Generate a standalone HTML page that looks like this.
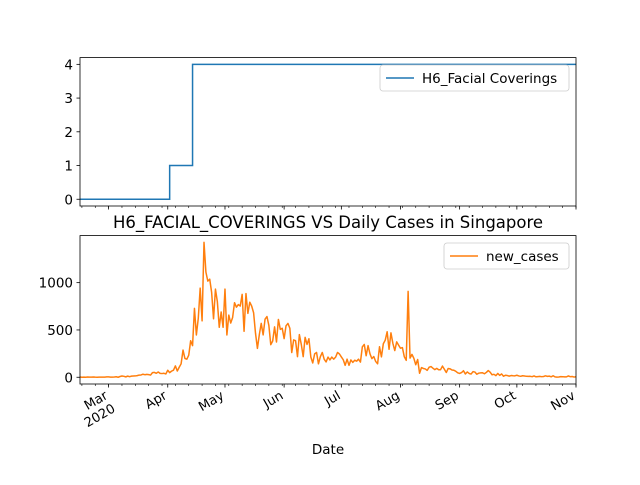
<!DOCTYPE html>
<html><head><meta charset="utf-8"><style>
body{margin:0;background:#fff}
svg{font-family:"DejaVu Sans","Liberation Sans",sans-serif}
</style></head><body>
<svg id="chart" width="640" height="480" xmlns="http://www.w3.org/2000/svg">
<rect width="640" height="480" fill="#fff"/>
<g id="top"></g>
<g id="bot"></g>
</svg>
<script>
// days relative to 2020-03-01 (day 0); series starts at day -15 (Feb 15)
const startDay = -15;
const endDay = 245;
const h6Steps = [[-15,0],[32,1],[44,4]];
const h6Ticks = [0,1,2,3,4];
const casesFeb = [3,0,2,0,3,1,1,3,1,0,1,2,1,2,4];
const casesMar = [4,2,2,3,5,0,8,13,10,4,12,6,12,13,14,17,23,24,32,27,30,28,23,49,51,42,55,41,39,42,35];
const casesApr = [74,49,65,75,120,66,106,142,287,198,191,233,386,334,728,447,623,942,596,1426,1111,1016,1037,897,618,931,799,528,690,528];
const casesMay = [932,447,657,573,632,788,741,768,753,876,486,884,675,793,752,682,465,305,451,570,448,614,642,548,344,383,533,373,611,506,518];
const casesJun = [408,544,569,518,261,395,386,218,451,347,218,422,347,407,214,151,247,262,142,218,262,191,162,213,183,213,191,213,262,246];
const casesJul = [215,185,126,191,126,183,157,180,170,191,160,322,347,227,334,248,197,219,167,142,322,215,354,392,481,296,469,359,282,374,340];
const casesAug = [307,313,216,179,908,202,242,200,132,188,42,102,93,88,73,106,113,96,81,94,79,80,118,85,50,93,89,77,74,63,47];
const casesSep = [40,49,69,35,56,40,34,59,55,32,43,46,47,37,51,71,54,26,31,17,40,20,35,11,21,18,12,18,16,15];
const casesOct = [21,14,10,16,13,10,9,10,6,14,5,7,9,6,8,15,9,12,5,16,4,2,3,7,6,4,4,14,6,8,2];
const casesNov = [5];
const caseTicks = [0,500,1000];
const monthNames = ["Mar","Apr","May","Jun","Jul","Aug","Sep","Oct","Nov"];
const monthDays = [0,31,61,92,122,153,184,214,245];

const cases = [].concat(casesFeb,casesMar,casesApr,casesMay,casesJun,casesJul,casesAug,casesSep,casesOct,casesNov);
const NS="http://www.w3.org/2000/svg";
const L=80,R=576;
function xs(d){return L+(d-startDay)*(R-L)/(endDay-startDay);}
function mk(tag,attrs,parent,text){const e=document.createElementNS(NS,tag);for(const k in attrs)e.setAttribute(k,attrs[k]);if(text!==undefined)e.textContent=text;parent.appendChild(e);return e;}

function axesFrame(g,top,bot,yTicks,ys,labels){
  // weekly minor ticks (Mondays)
  for(let d=-14; d<=endDay; d+=7){
    const t=mk('line',{x1:xs(d),x2:xs(d),y1:bot,y2:bot+2,stroke:'#000','stroke-width':0.6},g);
    
    
  }
  monthDays.forEach((d,i)=>{
    const t=mk('line',{x1:xs(d),x2:xs(d),y1:bot,y2:bot+3.5,stroke:'#000','stroke-width':0.8},g);
    
    
    if(labels){
      const x=xs(d), y=bot+14;
      const tx=mk('text',{x:x,y:y,'font-size':13,'text-anchor':'end',transform:`rotate(-30 ${x} ${y})`},g,monthNames[i]);
      
      
      if(i===0){
        const t2=mk('text',{x:x,y:y+15,'font-size':13,'text-anchor':'end',transform:`rotate(-30 ${x} ${y})`},g,'2020');
        
        
      }
    }
  });
  yTicks.forEach(v=>{
    const y=ys(v);
    const t=mk('line',{x1:L-3.5,x2:L,y1:y,y2:y,stroke:'#000','stroke-width':0.8},g);
    
    
    const tx=mk('text',{x:L-7,y:y+5,'font-size':13.5,'text-anchor':'end'},g,String(v));
    
    
  });
  const f=mk('rect',{x:L,y:top,width:R-L,height:bot-top,fill:'none',stroke:'#000','stroke-width':0.8},g);
  
  
}

// top axes
const tg=document.getElementById('top');
const T1=57.6,B1=206;
const y1min=-0.2,y1max=4.2;
function ys1(v){return B1-(v-y1min)*(B1-T1)/(y1max-y1min);}
let p='';
h6Steps.forEach((s,i)=>{
  const next=i<h6Steps.length-1?h6Steps[i+1][0]:endDay;
  p+=(i===0?'M':'L')+xs(s[0])+','+ys1(s[1])+'L'+xs(next)+','+ys1(s[1]);
});
const l1=mk('path',{d:p,fill:'none',stroke:'#1f77b4','stroke-width':1.5},tg);


axesFrame(tg,T1,B1,h6Ticks,ys1,false);
const lg1=mk('g',{},tg);


mk('rect',{x:380,y:65,width:189,height:26,rx:3,fill:'#fff',stroke:'#ccc','stroke-width':0.8},lg1);
mk('line',{x1:386,x2:414,y1:78,y2:78,stroke:'#1f77b4','stroke-width':1.5},lg1);
mk('text',{x:422,y:83,'font-size':13.5},lg1,'H6_Facial Coverings');

// title
const ti=mk('text',{x:328,y:228,'font-size':16.5,'text-anchor':'middle'},document.getElementById('chart'),'H6_FACIAL_COVERINGS VS Daily Cases in Singapore');



// bottom axes
const bg=document.getElementById('bot');
const T2=235.6,B2=384;
const cmax=Math.max(...cases),cmin=Math.min(...cases),cr=cmax-cmin;
const y2min=cmin-0.05*cr,y2max=cmax+0.05*cr;
function ys2(v){return B2-(v-y2min)*(B2-T2)/(y2max-y2min);}
let p2='';
cases.forEach((v,i)=>{p2+=(i===0?'M':'L')+xs(startDay+i).toFixed(2)+','+ys2(v).toFixed(2);});
const l2=mk('path',{d:p2,fill:'none',stroke:'#ff7f0e','stroke-width':1.5,'stroke-linejoin':'round'},bg);


axesFrame(bg,T2,B2,caseTicks,ys2,true);
const lg2=mk('g',{},bg);


mk('rect',{x:444,y:243,width:125,height:26,rx:3,fill:'#fff',stroke:'#ccc','stroke-width':0.8},lg2);
mk('line',{x1:450,x2:478,y1:256,y2:256,stroke:'#ff7f0e','stroke-width':1.5},lg2);
mk('text',{x:486,y:261,'font-size':13.5},lg2,'new_cases');
const xl=mk('text',{x:328,y:454,'font-size':13.5,'text-anchor':'middle'},bg,'Date');


</script>
</body></html>
